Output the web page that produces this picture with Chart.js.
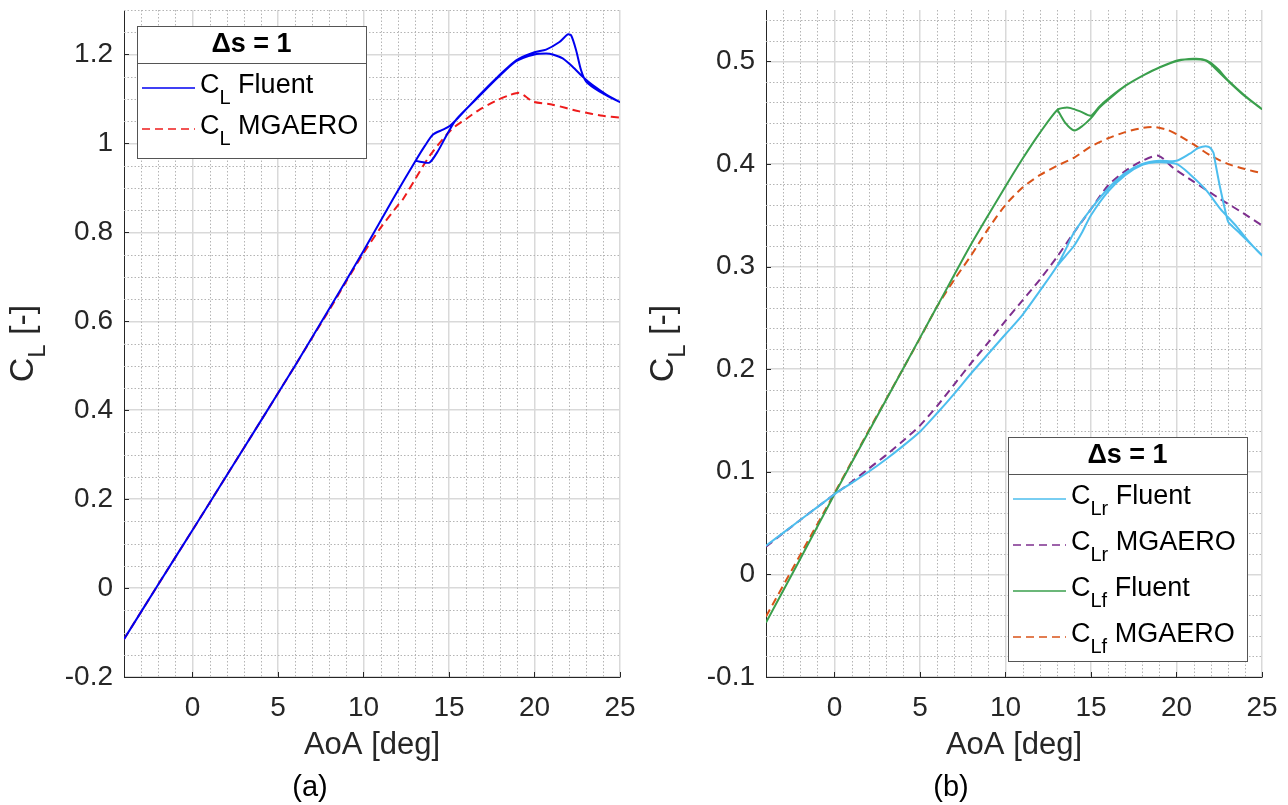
<!DOCTYPE html>
<html lang="en">
<head>
<meta charset="UTF-8">
<title>CL vs AoA</title>
<script src="https://cdn.jsdelivr.net/npm/chart.js@4.4.0/dist/chart.umd.min.js"></script>
<style>
  html, body { margin: 0; padding: 0; background: #fff; }
  #wrap { position: relative; width: 1288px; height: 805px; }
  .panel { position: absolute; top: 0; height: 805px; }
</style>
</head>
<body>
<div id="wrap">
  <div class="panel" style="left:0;width:640px"><canvas id="chartA"></canvas></div>
  <div class="panel" style="left:640px;width:648px"><canvas id="chartB"></canvas></div>
</div>

<script>
// ---------- (a) total lift, loops run up then back down ----------
const aoaFluent = [-4, -2, 0, 2, 4, 6, 8, 10, 11.73, 13.05, 13.6, 14.07, 14.65, 15.04, 15.62, 16.79, 17.86, 18.93, 20, 20.68, 21.46, 21.94, 22.14, 22.43, 22.72, 23.02, 23.79, 25,
                   24.2, 23.4, 22.82, 22.24, 21.65, 21.07, 20.68, 20, 18.93, 17.86, 16.79, 15.43, 14.94, 14.36, 13.87, 13.4, 13.05];
const clFluent  = [-0.115, 0.008, 0.130, 0.253, 0.376, 0.500, 0.628, 0.758, 0.875, 0.961, 0.995, 1.020, 1.031, 1.039, 1.061, 1.109, 1.150, 1.187, 1.205, 1.211, 1.228, 1.245, 1.243, 1.210, 1.165, 1.139, 1.117, 1.093,
                   1.110, 1.131, 1.150, 1.172, 1.191, 1.200, 1.202, 1.200, 1.185, 1.148, 1.107, 1.054, 1.024, 0.983, 0.957, 0.958, 0.961];
const aoaMgaero = [-4, -2, 0, 2, 4, 6, 7, 8, 9, 10, 11, 12, 12.32, 13, 13.87, 15.14, 16, 16.79, 17.86, 18.5, 19.12, 19.5, 19.9, 21.07, 22.63, 24, 25];
const clMgaero  = [-0.115, 0.008, 0.130, 0.253, 0.376, 0.500, 0.563, 0.625, 0.690, 0.753, 0.810, 0.860, 0.875, 0.918, 0.972, 1.031, 1.055, 1.076, 1.098, 1.108, 1.114, 1.105, 1.094, 1.087, 1.072, 1.062, 1.058];

// ---------- (b) rear / front lift ----------
const aoaRearFluent = [-4, -2, 0, 1, 2, 3, 4, 5, 6, 7, 8, 9, 10, 11, 12, 13, 13.5, 14, 15, 16, 17, 18, 19, 20, 20.78, 21.27, 21.86, 22.16, 22.25, 22.55, 22.94, 23.04, 23.73, 25,
                       24.3, 23.53, 22.55, 21.76, 20.78, 20, 18.82, 18, 17, 16, 15, 14.5, 14, 13.5, 13];
const clRearFluent  = [0.028, 0.053, 0.078, 0.089, 0.100, 0.112, 0.125, 0.139, 0.157, 0.176, 0.196, 0.215, 0.234, 0.253, 0.276, 0.300, 0.316, 0.333, 0.356, 0.376, 0.391, 0.400, 0.403, 0.403, 0.410, 0.4155, 0.4168, 0.411, 0.403, 0.377, 0.348, 0.343, 0.332, 0.311,
                       0.323, 0.3387, 0.3565, 0.374, 0.390, 0.400, 0.4016, 0.399, 0.389, 0.373, 0.350, 0.334, 0.320, 0.310, 0.300];
const aoaRearMgaero = [-4, -2, 0, 1, 2, 3, 4, 5, 6, 7, 8, 9, 10, 11, 12, 13, 14, 15, 16, 17, 18, 18.94, 19.82, 20.98, 22.35, 23.9, 25];
const clRearMgaero  = [0.027, 0.053, 0.078, 0.090, 0.103, 0.116, 0.130, 0.145, 0.164, 0.185, 0.206, 0.226, 0.247, 0.267, 0.287, 0.309, 0.333, 0.356, 0.379, 0.393, 0.403, 0.408, 0.396, 0.383, 0.368, 0.352, 0.340];
const aoaFrontFluent = [-4, -2, 0, 2, 4, 6, 8, 10, 11, 12, 13.04, 13.5, 13.82, 14.4, 15, 15.5, 16.18, 17, 18.14, 19, 20.1, 21.08, 21.67, 22, 22.45, 23.04, 24, 25,
                        24, 23.04, 22.45, 21.96, 21.5, 21, 20.1, 19, 18.14, 17, 16.18, 15.5, 15, 14.5, 14.02, 13.5, 13.04];
const clFrontFluent  = [-0.047, 0.015, 0.078, 0.139, 0.200, 0.261, 0.322, 0.378, 0.405, 0.430, 0.4528, 0.4548, 0.4544, 0.451, 0.447, 0.456, 0.4658, 0.476, 0.487, 0.494, 0.501, 0.502, 0.501, 0.4975, 0.490, 0.4805, 0.466, 0.4534,
                        0.4665, 0.481, 0.492, 0.499, 0.502, 0.5025, 0.5005, 0.494, 0.487, 0.476, 0.465, 0.455, 0.4446, 0.437, 0.4326, 0.440, 0.4528];
const aoaFrontMgaero = [-4, -2, 0, 2, 4, 5, 6, 7, 8, 9, 10, 11, 12, 13, 14, 15, 16, 17, 18, 18.7, 19.5, 20.1, 21, 22, 23, 24, 25];
const clFrontMgaero  = [-0.041, 0.019, 0.079, 0.140, 0.200, 0.230, 0.261, 0.287, 0.311, 0.337, 0.360, 0.377, 0.389, 0.398, 0.406, 0.417, 0.425, 0.431, 0.435, 0.436, 0.433, 0.428, 0.419, 0.408, 0.400, 0.395, 0.391];

// ticks
const aoaTicks = [0, 5, 10, 15, 20, 25];
const clTicksA = [-0.2, 0, 0.2, 0.4, 0.6, 0.8, 1, 1.2];
const clTicksB = [-0.1, 0, 0.1, 0.2, 0.3, 0.4, 0.5];

// legend text
const legendTitle = 'Δs = 1';
const legendSubA = ['L', 'L'];
const legendNameA = ['Fluent', 'MGAERO'];
const legendSubB = ['Lr', 'Lr', 'Lf', 'Lf'];
const legendNameB = ['Fluent', 'MGAERO', 'Fluent', 'MGAERO'];

const FONT = '"Liberation Sans", Arial, Helvetica, sans-serif';
const INK = '#262626';

const pts = (xs, ys) => xs.map((v, i) => ({ x: v, y: ys[i] }));

function series(xs, ys, color, dashed) {
    return {
        data: pts(xs, ys),
        borderColor: color,
        borderWidth: 2,
        borderDash: dashed ? [8, 5] : [],
        pointRadius: 0,
        tension: 0.25,
        fill: false
    };
}

// C + subscript + rest, left aligned at x with cap centre at y
function subText(ctx, x, y, sub, rest, size, subSize, drop) {
    ctx.font = size + 'px ' + FONT;
    const base = y + size * 0.358;
    ctx.fillText('C', x, base);
    x += ctx.measureText('C').width;
    ctx.font = subSize + 'px ' + FONT;
    ctx.fillText(sub, x, base + drop);
    x += ctx.measureText(sub).width;
    ctx.font = size + 'px ' + FONT;
    ctx.fillText(rest, x, base);
}

const matlabLook = {
    id: 'matlabLook',
    beforeDatasetsDraw(chart, args, o) {
        const { ctx, chartArea: a, scales: { x, y } } = chart;
        ctx.save();
        ctx.strokeStyle = '#b4b4b4';
        ctx.lineWidth = 1;
        ctx.setLineDash([1.5, 2]);
        ctx.beginPath();
        for (let k = Math.ceil(x.min / o.xMinor); k * o.xMinor <= x.max + 1e-9; k++) {
            const v = k * o.xMinor;
            if (Math.abs(v - x.min) < 1e-9 || Math.abs(v / o.xMajor - Math.round(v / o.xMajor)) < 1e-6) continue;
            const px = Math.round(x.getPixelForValue(v)) + 0.5;
            ctx.moveTo(px, a.top); ctx.lineTo(px, a.bottom);
        }
        for (let k = Math.ceil(y.min / o.yMinor - 1e-6); k * o.yMinor <= y.max + 1e-9; k++) {
            const v = k * o.yMinor;
            if (Math.abs(v - y.min) < 1e-9 || Math.abs(v / o.yMajor - Math.round(v / o.yMajor)) < 1e-6) continue;
            const py = Math.round(y.getPixelForValue(v)) + 0.5;
            ctx.moveTo(a.left, py); ctx.lineTo(a.right, py);
        }
        ctx.stroke();
        ctx.restore();
    },
    afterDraw(chart, args, o) {
        const { ctx, chartArea: a, scales: { x, y } } = chart;
        ctx.save();
        // inward ticks
        ctx.strokeStyle = INK;
        ctx.lineWidth = 1;
        ctx.beginPath();
        x.ticks.forEach(t => {
            const px = Math.round(x.getPixelForValue(t.value)) + 0.5;
            ctx.moveTo(px, a.bottom); ctx.lineTo(px, a.bottom - 5);
        });
        y.ticks.forEach(t => {
            const py = Math.round(y.getPixelForValue(t.value)) + 0.5;
            ctx.moveTo(a.left, py); ctx.lineTo(a.left + 5, py);
        });
        ctx.stroke();

        // y title with subscript
        ctx.fillStyle = INK;
        ctx.textAlign = 'left';
        ctx.textBaseline = 'alphabetic';
        ctx.translate(o.titleX, (a.top + a.bottom) / 2);
        ctx.rotate(-Math.PI / 2);
        ctx.font = '34px ' + FONT;
        const w1 = ctx.measureText('C').width, w3 = ctx.measureText(' [-]').width;
        ctx.font = '24px ' + FONT;
        const w2 = ctx.measureText('L').width;
        let tx = -(w1 + w2 + w3) / 2;
        ctx.font = '34px ' + FONT; ctx.fillText('C', tx, 0); tx += w1;
        ctx.font = '24px ' + FONT; ctx.fillText('L', tx, 12); tx += w2;
        ctx.font = '34px ' + FONT; ctx.fillText(' [-]', tx, 0);
        ctx.restore();

        // legend box
        const L = o.legend;
        ctx.save();
        ctx.fillStyle = '#fff';
        ctx.fillRect(L.left, L.top, L.right - L.left, L.bottom - L.top);
        ctx.strokeStyle = '#555';
        ctx.lineWidth = 1;
        ctx.strokeRect(L.left + 0.5, L.top + 0.5, L.right - L.left, L.bottom - L.top);
        ctx.beginPath();
        ctx.moveTo(L.left, L.sep + 0.5); ctx.lineTo(L.right, L.sep + 0.5);
        ctx.stroke();
        ctx.fillStyle = '#000';
        ctx.font = 'bold 27px ' + FONT;
        ctx.textAlign = 'center';
        ctx.textBaseline = 'middle';
        ctx.fillText(legendTitle, (L.left + L.right) / 2, L.titleY);
        ctx.textAlign = 'left';
        ctx.textBaseline = 'alphabetic';
        chart.data.datasets.forEach((ds, i) => {
            const cy = L.rows[i];
            ctx.strokeStyle = ds.borderColor;
            ctx.lineWidth = 1.5;
            ctx.setLineDash(ds.borderDash);
            ctx.beginPath();
            ctx.moveTo(L.left + 5, cy + 5); ctx.lineTo(L.left + 58, cy + 5);
            ctx.stroke();
            ctx.setLineDash([]);
            ctx.fillStyle = '#000';
            subText(ctx, L.left + 63, cy, L.subs[i], ' ' + L.names[i], 27, 20, 11);
        });
        ctx.restore();
    }
};

function makeOptions(c) {
    return {
        responsive: true,
        maintainAspectRatio: false,
        animation: false,
        layout: { padding: { top: 10, right: c.padRight, bottom: 0, left: 0 } },
        plugins: {
            legend: { display: false },
            tooltip: { enabled: false },
            title: {
                display: true, text: c.caption, position: 'bottom', color: '#000',
                font: { family: FONT, size: 29, weight: 'normal' }, padding: 0
            },
            matlabLook: c.look
        },
        scales: {
            x: {
                type: 'linear', min: -4, max: 25, bounds: 'data',
                afterBuildTicks: s => { s.ticks = aoaTicks.map(v => ({ value: v })); },
                afterFit: s => { s.height = 93.2; s.paddingLeft = 0; s.paddingRight = 0; },
                ticks: { color: INK, padding: 14, font: { family: FONT, size: 28 }, maxRotation: 0, autoSkip: false, callback: v => String(v) },
                grid: { color: '#d9d9d9', lineWidth: 1.5, drawTicks: false },
                border: { display: true, color: INK, width: 1 },
                title: { display: true, text: 'AoA [deg]', color: INK, font: { family: FONT, size: 31 }, padding: { top: 0, bottom: 6 } }
            },
            y: {
                type: 'linear', min: c.ymin, max: c.ymax, bounds: 'data',
                afterBuildTicks: s => { s.ticks = c.yTicks.map(v => ({ value: v })); },
                afterFit: s => { s.width = c.yWidth; s.paddingTop = 0; s.paddingBottom = 0; },
                ticks: { color: INK, padding: 11, font: { family: FONT, size: 28 }, autoSkip: false, callback: v => String(v) },
                grid: { color: '#d9d9d9', lineWidth: 1.5, drawTicks: false },
                border: { display: true, color: INK, width: 1 }
            }
        }
    };
}

new Chart(document.getElementById('chartA'), {
    type: 'line',
    data: {
        datasets: [
            series(aoaFluent, clFluent, '#0000f0', false),
            series(aoaMgaero, clMgaero, '#ee1c1c', true)
        ]
    },
    options: makeOptions({
        ymin: -0.2, ymax: 1.3, yTicks: clTicksA, yWidth: 124, padRight: 20, caption: '(a)',
        look: {
            xMinor: 1, xMajor: 5, yMinor: 0.05, yMajor: 0.2, titleX: 33,
            legend: { left: 137, top: 26, right: 366, bottom: 158, sep: 63, titleY: 45, rows: [83, 124], subs: legendSubA, names: legendNameA }
        }
    }),
    plugins: [matlabLook]
});

new Chart(document.getElementById('chartB'), {
    type: 'line',
    data: {
        datasets: [
            series(aoaRearFluent, clRearFluent, '#4dbeee', false),
            series(aoaRearMgaero, clRearMgaero, '#7e2f8e', true),
            series(aoaFrontFluent, clFrontFluent, '#3a9f4c', false),
            series(aoaFrontMgaero, clFrontMgaero, '#d95319', true)
        ]
    },
    options: makeOptions({
        ymin: -0.1, ymax: 0.55, yTicks: clTicksB, yWidth: 126, padRight: 26, caption: '(b)',
        look: {
            xMinor: 1, xMajor: 5, yMinor: 0.02, yMajor: 0.1, titleX: 33,
            legend: { left: 368, top: 437, right: 607, bottom: 661, sep: 474, titleY: 456, rows: [494, 540, 586, 632], subs: legendSubB, names: legendNameB }
        }
    }),
    plugins: [matlabLook]
});
</script>
</body>
</html>
